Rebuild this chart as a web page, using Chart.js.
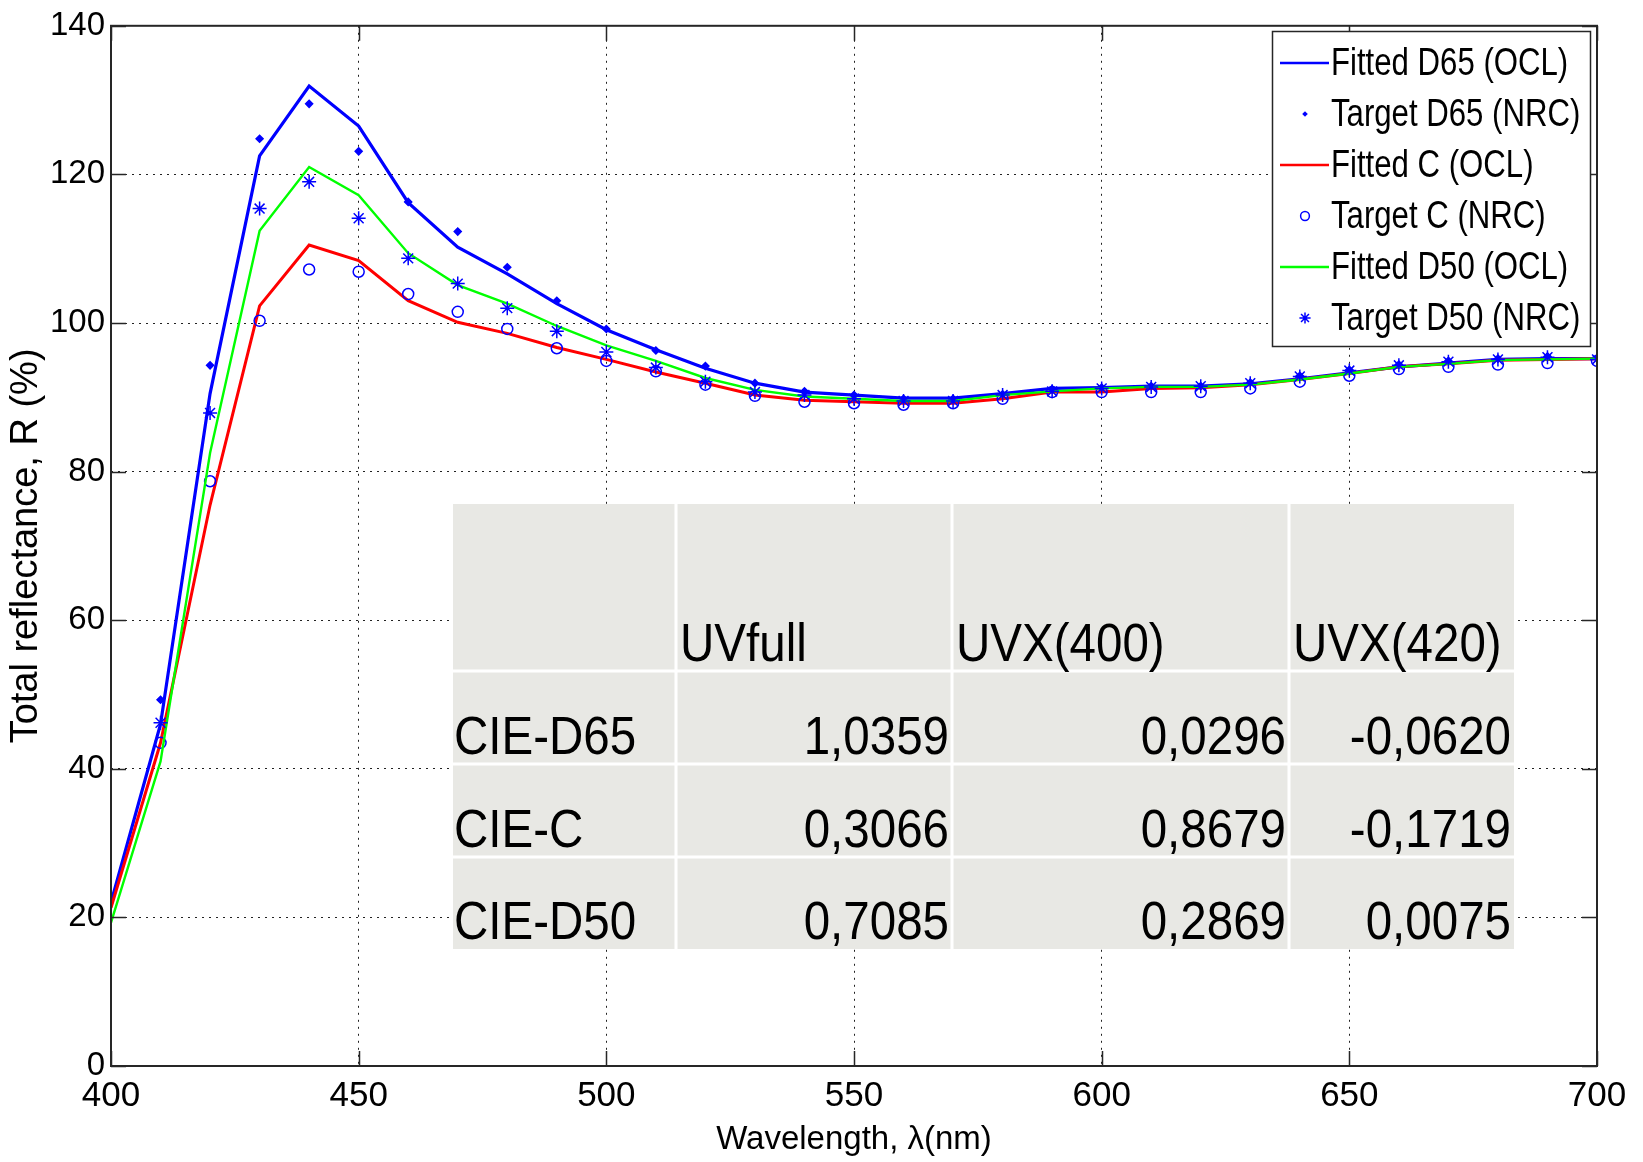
<!DOCTYPE html>
<html>
<head>
<meta charset="utf-8">
<title>Total reflectance</title>
<script src="https://cdn.jsdelivr.net/npm/chart.js@4.4.1/dist/chart.umd.min.js"></script>
<style>
  html, body { margin: 0; padding: 0; background: #fff; }
  #wrap { position: relative; width: 1643px; height: 1162px; }
</style>
</head>
<body>
<div id="wrap"><canvas id="reflChart" width="1643" height="1162"></canvas></div>
<script>
/* ===================== DATA ===================== */
const wavelengths = [400, 410, 420, 430, 440, 450, 460, 470, 480, 490, 500, 510, 520, 530, 540, 550,
  560, 570, 580, 590, 600, 610, 620, 630, 640, 650, 660, 670, 680, 690, 700];

const fittedD65 = [22.0, 46.0, 90.5, 122.5, 131.9, 126.5, 116.2, 110.2, 106.6, 102.6, 99.1, 96.4, 93.9, 91.9, 90.7, 90.3,
  89.9, 89.9, 90.5, 91.2, 91.3, 91.5, 91.5, 91.8, 92.5, 93.3, 94.1, 94.6, 95.1, 95.2, 95.2];
const targetD65 = [null, 49.3, 94.3, 124.8, 129.5, 123.1, 116.3, 112.3, 107.5, 103.0, 99.2, 96.3, 94.2, 91.9, 90.8, 90.3,
  89.8, 89.8, 90.4, 91.1, 91.3, 91.5, 91.5, 92.0, 92.9, 93.7, 94.4, 94.9, 95.2, 95.5, 95.3];

const fittedC = [21.3, 43.5, 75.5, 102.3, 110.5, 108.4, 103.0, 100.1, 98.6, 96.7, 95.1, 93.4, 91.9, 90.3, 89.6, 89.4,
  89.2, 89.2, 89.8, 90.7, 90.7, 91.2, 91.3, 91.7, 92.4, 93.2, 94.1, 94.5, 95.0, 95.1, 95.2];
const targetC = [null, 43.5, 78.7, 100.3, 107.2, 106.9, 103.9, 101.5, 99.2, 96.6, 94.9, 93.5, 91.7, 90.2, 89.4, 89.2,
  89.0, 89.2, 89.8, 90.7, 90.7, 90.7, 90.7, 91.2, 92.1, 92.9, 93.8, 94.1, 94.4, 94.6, 94.9];

const fittedD50 = [19.3, 41.0, 82.5, 112.4, 121.0, 117.2, 109.4, 105.1, 102.6, 99.6, 97.0, 94.9, 92.6, 91.0, 90.1, 89.8,
  89.5, 89.5, 90.3, 90.8, 91.2, 91.4, 91.4, 91.7, 92.4, 93.2, 94.1, 94.5, 95.0, 95.1, 95.2];
const targetD50 = [null, 46.2, 87.9, 115.4, 119.0, 114.1, 108.7, 105.3, 102.0, 98.9, 96.1, 94.0, 92.1, 90.7, 90.3, 89.8,
  89.5, 89.5, 90.3, 90.8, 91.2, 91.4, 91.5, 91.9, 92.8, 93.6, 94.3, 94.8, 95.1, 95.4, 95.1];

const xTicks = [400, 450, 500, 550, 600, 650, 700];
const yTicks = [0, 20, 40, 60, 80, 100, 120, 140];

// tabla UV
const tableHeader = ['', 'UVfull', 'UVX(400)', 'UVX(420)'];
const tableRows = ['CIE-D65', 'CIE-C', 'CIE-D50'];
const uvFull = ['1,0359', '0,3066', '0,7085'];
const uvx400 = ['0,0296', '0,8679', '0,2869'];
const uvx420 = ['-0,0620', '-0,1719', '0,0075'];

/* ===================== HELPERS ===================== */
const FONT = "'Liberation Sans', Arial, sans-serif";

function toPoints(values) {
  return wavelengths
    .map((w, i) => ({ x: w, y: values[i] }))
    .filter(p => p.y !== null);
}

// texto comprimido horizontalmente (la fuente original es estrecha)
function narrowText(ctx, text, x, y, sx, align) {
  ctx.save();
  ctx.translate(x, y);
  ctx.scale(sx, 1);
  ctx.textAlign = align || 'left';
  ctx.fillText(text, 0, 0);
  ctx.restore();
}

function drawMarker(ctx, ds, x, y, k) {
  const r = ds.pointRadius * k;
  ctx.save();
  ctx.strokeStyle = ds.pointBorderColor;
  ctx.fillStyle = ds.pointBackgroundColor;
  ctx.lineWidth = ds.pointBorderWidth;
  ctx.beginPath();
  if (ds.pointStyle === 'rectRot') {
    ctx.moveTo(x, y - r); ctx.lineTo(x + r, y); ctx.lineTo(x, y + r); ctx.lineTo(x - r, y); ctx.closePath();
    ctx.fill();
  } else if (ds.pointStyle === 'circle') {
    ctx.arc(x, y, r, 0, Math.PI * 2);
    ctx.stroke();
  } else {
    for (let j = 0; j < 4; j++) {
      const ang = j * Math.PI / 4;
      ctx.moveTo(x - r * Math.cos(ang), y - r * Math.sin(ang));
      ctx.lineTo(x + r * Math.cos(ang), y + r * Math.sin(ang));
    }
    ctx.stroke();
  }
  ctx.restore();
}

/* ===================== PLUGINS ===================== */
const axisBox = {
  id: 'axisBox',
  afterDraw(chart) {
    const { ctx, chartArea: a, scales } = chart;
    ctx.save();
    ctx.strokeStyle = '#262626';
    ctx.lineWidth = 1.5;
    const len = 15;
    ctx.beginPath();
    xTicks.forEach(v => {
      const x = Math.round(scales.x.getPixelForValue(v)) + 0.5;
      ctx.moveTo(x, a.bottom); ctx.lineTo(x, a.bottom - len);
      ctx.moveTo(x, a.top); ctx.lineTo(x, a.top + len);
    });
    yTicks.forEach(v => {
      const y = Math.round(scales.y.getPixelForValue(v)) + 0.5;
      ctx.moveTo(a.left, y); ctx.lineTo(a.left + len, y);
      ctx.moveTo(a.right, y); ctx.lineTo(a.right - len, y);
    });
    ctx.stroke();
    ctx.lineWidth = 2;
    ctx.strokeRect(a.left, a.top, a.right - a.left, a.bottom - a.top);
    ctx.restore();
  }
};

const legendBox = {
  id: 'legendBox',
  afterDraw(chart) {
    const ctx = chart.ctx;
    const bx = 1272, by = 31, bw = 318, bh = 315;
    ctx.save();
    ctx.fillStyle = '#fff';
    ctx.fillRect(bx, by, bw, bh);
    ctx.strokeStyle = '#262626';
    ctx.lineWidth = 1.5;
    ctx.strokeRect(bx + 0.5, by + 0.5, bw, bh);
    ctx.font = '38px ' + FONT;
    ctx.textBaseline = 'middle';
    chart.data.datasets.forEach((ds, i) => {
      const y = by + 32 + i * 51;
      if (ds.showLine !== false) {
        ctx.strokeStyle = ds.borderColor;
        ctx.lineWidth = 2.5;
        ctx.beginPath();
        ctx.moveTo(bx + 8, y); ctx.lineTo(bx + 57, y);
        ctx.stroke();
      } else {
        drawMarker(ctx, ds, bx + 33, y, 0.8);
      }
      ctx.fillStyle = '#000';
      narrowText(ctx, ds.label, bx + 59, y + 2, 0.82);
    });
    ctx.restore();
  }
};

const uvTable = {
  id: 'uvTable',
  afterDraw(chart) {
    const ctx = chart.ctx;
    const cols = [453, 676, 952, 1289, 1514];
    const rows = [504, 671, 764, 857, 949];
    ctx.save();
    ctx.fillStyle = '#e8e8e4';
    ctx.fillRect(cols[0], rows[0], cols[4] - cols[0], rows[4] - rows[0]);
    ctx.strokeStyle = '#fff';
    ctx.lineWidth = 3;
    ctx.beginPath();
    for (let i = 1; i < 4; i++) {
      ctx.moveTo(cols[i], rows[0]); ctx.lineTo(cols[i], rows[4]);
      ctx.moveTo(cols[0], rows[i]); ctx.lineTo(cols[4], rows[i]);
    }
    ctx.stroke();

    ctx.fillStyle = '#000';
    ctx.font = '54px ' + FONT;
    ctx.textBaseline = 'alphabetic';
    const sx = 0.88;
    tableHeader.forEach((h, i) => {
      if (h) narrowText(ctx, h, cols[i] + 4, rows[1] - 10, sx);
    });
    const colsData = [uvFull, uvx400, uvx420];
    tableRows.forEach((name, r) => {
      const base = rows[r + 2] - 10;
      narrowText(ctx, name, cols[0] + 1, base, sx);
      colsData.forEach((col, c) => narrowText(ctx, col[r], cols[c + 2] - 3, base, sx, 'right'));
    });
    ctx.restore();
  }
};

/* ===================== CHART ===================== */
document.addEventListener('DOMContentLoaded', () => {
  const ctx = document.getElementById('reflChart');

  const lineSet = (label, values, color, width, order) => ({
    label, data: toPoints(values), borderColor: color, backgroundColor: color,
    borderWidth: width, pointRadius: 0, tension: 0, order
  });
  const markSet = (label, values, style, radius, fill, order) => ({
    label, data: toPoints(values), showLine: false,
    pointStyle: style, pointRadius: radius, pointBorderWidth: 1.5,
    pointBorderColor: '#0000ff', pointBackgroundColor: fill,
    borderColor: '#0000ff', backgroundColor: fill, order
  });

  new Chart(ctx.getContext('2d'), {
    type: 'line',
    data: {
      datasets: [
        lineSet('Fitted D65 (OCL)', fittedD65, '#0000ff', 3.2, 5),
        markSet('Target D65 (NRC)', targetD65, 'rectRot', 3.5, '#0000ff', 4),
        lineSet('Fitted C (OCL)', fittedC, '#ff0000', 3, 3),
        markSet('Target C (NRC)', targetC, 'circle', 5.5, 'rgba(0,0,0,0)', 2),
        lineSet('Fitted D50 (OCL)', fittedD50, '#00ff00', 2.4, 1),
        markSet('Target D50 (NRC)', targetD50, 'star', 7, '#0000ff', 0)
      ]
    },
    options: {
      responsive: false,
      animation: false,
      layout: { padding: { top: 23, right: 46, left: 0, bottom: 0 } },
      plugins: {
        legend: { display: false },
        tooltip: { enabled: false }
      },
      scales: {
        x: {
          type: 'linear', min: 400, max: 700,
          afterFit: s => { s.height = 96; },
          afterBuildTicks: s => { s.ticks = xTicks.map(v => ({ value: v })); },
          ticks: { color: '#000', padding: 9, maxRotation: 0, font: { family: FONT, size: 35 } },
          grid: { color: '#222', lineWidth: 1, drawTicks: false },
          border: { display: false, dash: [2, 5] },
          title: {
            display: true, text: 'Wavelength, \u03bb(nm)', color: '#000',
            font: { family: FONT, size: 33 }, padding: { top: 0, bottom: 2 }
          }
        },
        y: {
          min: 0, max: 140,
          afterFit: s => { s.width = 111; },
          afterBuildTicks: s => { s.ticks = yTicks.map(v => ({ value: v })); },
          ticks: { color: '#000', padding: 6, font: { family: FONT, size: 33 } },
          grid: { color: '#222', lineWidth: 1, drawTicks: false },
          border: { display: false, dash: [2, 5] },
          title: {
            display: true, text: 'Total reflectance, R (%)', color: '#000',
            font: { family: FONT, size: 38 }, padding: { top: 4, bottom: 0 }
          }
        }
      }
    },
    plugins: [uvTable, axisBox, legendBox]
  });
});
</script>
</body>
</html>
